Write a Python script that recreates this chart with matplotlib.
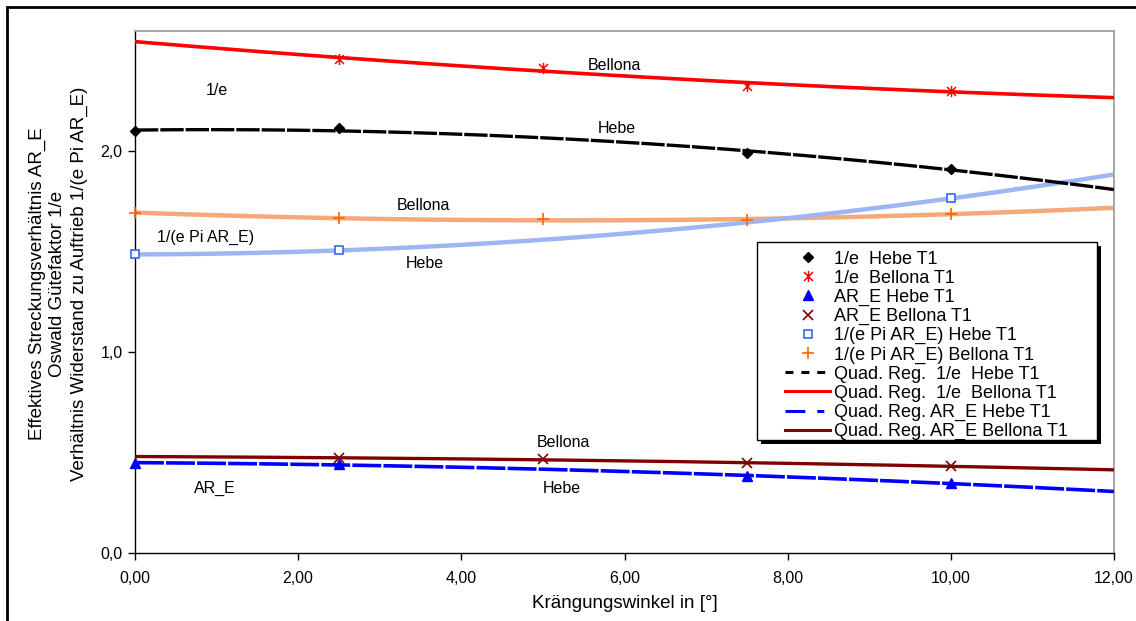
import numpy as np
import matplotlib
matplotlib.use("Agg")
import matplotlib.pyplot as plt
from matplotlib.lines import Line2D
from matplotlib.patches import Rectangle
from matplotlib.path import Path

plt.rcParams['font.family'] = ['Liberation Sans', 'DejaVu Sans']

# ---- data ----
x_inv_e_hebe = [0.0, 2.5, 7.5, 10.0]
inv_e_hebe = [2.100, 2.116, 1.990, 1.915]

x_inv_e_bellona = [2.5, 5.0, 7.5, 10.0]
inv_e_bellona = [2.462, 2.418, 2.325, 2.303]

x_are_hebe = [0.0, 2.5, 7.5, 10.0]
are_hebe = [0.448, 0.443, 0.382, 0.348]

x_are_bellona = [2.5, 5.0, 7.5, 10.0]
are_bellona = [0.473, 0.468, 0.446, 0.433]

x_ratio_hebe = [0.0, 2.5, 10.0]
ratio_hebe = [1.487, 1.507, 1.766]

x_ratio_bellona = [0.0, 2.5, 5.0, 7.5, 10.0]
ratio_bellona = [1.695, 1.667, 1.662, 1.657, 1.690]

x_ticks = [0, 2, 4, 6, 8, 10, 12]
x_ticklabels = ["0,00", "2,00", "4,00", "6,00", "8,00", "10,00", "12,00"]
y_ticks = [0, 1, 2]
y_ticklabels = ["0,0", "1,0", "2,0"]

W, H = 1136, 621
fig = plt.figure(figsize=(W / 100, H / 100), dpi=100)
ax = fig.add_axes([135 / W, (H - 553) / H, 979 / W, (553 - 31) / H])
ax.set_xlim(0, 12)
ax.set_ylim(0, 2.6)

xs = np.linspace(0, 12, 200)

def quad(x, y):
    return np.polyval(np.polyfit(x, y, 2), xs)

# regression curves
ax.plot(xs, quad(x_ratio_bellona, ratio_bellona), color='#F6A878', lw=3.2, zorder=2)
ax.plot(xs, quad(x_ratio_hebe, ratio_hebe), color='#9DB6F3', lw=3.2, zorder=2)
ax.plot(xs, quad(x_inv_e_hebe, inv_e_hebe), color='black', lw=2.4,
        linestyle=(0, (7, 0.6)), zorder=3)
ax.plot(xs, quad(x_inv_e_bellona, inv_e_bellona), color='#FF0000', lw=2.6, zorder=3)
ax.plot(xs, quad(x_are_hebe, are_hebe), color='#0000FF', lw=2.6,
        linestyle=(0, (8, 0.6)), zorder=3)
ax.plot(xs, quad(x_are_bellona, are_bellona), color='#800000', lw=2.4, zorder=3)

# asterisk marker (x with vertical bar)
ast = Path([(0, -1), (0, 1), (-0.8, -0.8), (0.8, 0.8), (-0.8, 0.8), (0.8, -0.8)],
           [Path.MOVETO, Path.LINETO, Path.MOVETO, Path.LINETO, Path.MOVETO, Path.LINETO])

mk = dict(linestyle='none', zorder=4, clip_on=False)
ax.plot(x_inv_e_hebe, inv_e_hebe, marker='D', ms=5.5, color='black', **mk)
ax.plot(x_inv_e_bellona, inv_e_bellona, marker=ast, ms=8, mew=1.1, color='#FF0000', **mk)
ax.plot(x_are_hebe, are_hebe, marker='^', ms=6.5, color='#0000FF', **mk)
ax.plot(x_are_bellona, are_bellona, marker='x', ms=7, mew=1.2, color='#800000', **mk)
ax.plot(x_ratio_hebe, ratio_hebe, marker='s', ms=6, mfc='white', mec='#3366FF', mew=1.2, **mk)
ax.plot(x_ratio_bellona, ratio_bellona, marker='+', ms=9, mew=1.2, color='#FF6600', **mk)

# axes styling
for s in ['top', 'right']:
    ax.spines[s].set_color('#A0A0A0')
    ax.spines[s].set_linewidth(1.3)
for s in ['left', 'bottom']:
    ax.spines[s].set_color('black')
    ax.spines[s].set_linewidth(1.0)
ax.set_xticks(x_ticks)
ax.set_xticklabels(x_ticklabels)
ax.set_yticks(y_ticks)
ax.set_yticklabels(y_ticklabels)
ax.tick_params(direction='out', length=5, width=1, labelsize=11.5, pad=8, colors='black')
ax.tick_params(axis='y', pad=4)

# annotations
ann = [
    ("Bellona", 5.88, 2.428), ("1/e", 1.0, 2.303), ("Hebe", 5.90, 2.114),
    ("Bellona", 3.53, 1.731), ("1/(e Pi AR_E)", 0.86, 1.572), ("Hebe", 3.55, 1.443),
    ("Bellona", 5.25, 0.552), ("AR_E", 0.98, 0.323), ("Hebe", 5.23, 0.323),
]
for t, x, y in ann:
    ax.text(x, y, t, ha='center', va='center', fontsize=11.5, zorder=5)

# axis titles
fig.text(58 / W, 1 - 284 / H,
         "Effektives Streckungsverhältnis AR_E\nOswald Gütefaktor 1/e\n"
         "Verhältnis Widerstand zu Auftrieb 1/(e Pi AR_E)",
         rotation=90, ha='center', va='center', multialignment='center',
         fontsize=13.5, linespacing=1.3)
fig.text(625 / W, 1 - 604 / H, "Krängungswinkel in [°]", ha='center', va='center',
         fontsize=13.5)

# outer frame
fig.patches.append(Rectangle((7 / W, -0.1), 1.2, 1.1 - 7 / H, transform=fig.transFigure,
                             fill=False, lw=2.0, edgecolor='black', zorder=1))

# legend box with shadow
lx0, ly0, lx1, ly1 = 757, 242, 1097, 440
fig.patches.append(Rectangle(((lx0 + 4) / W, 1 - (ly1 + 4) / H), (lx1 - lx0) / W,
                             (ly1 - ly0) / H, transform=fig.transFigure,
                             facecolor='black', edgecolor='black', lw=0, zorder=2))
fig.patches.append(Rectangle((lx0 / W, 1 - ly1 / H), (lx1 - lx0) / W, (ly1 - ly0) / H,
                             transform=fig.transFigure, facecolor='white',
                             edgecolor='black', lw=1.0, zorder=3))

handles = [
    Line2D([], [], linestyle='none', marker='D', ms=5.5, color='black'),
    Line2D([], [], linestyle='none', marker=ast, ms=8, mew=1.1, color='#FF0000'),
    Line2D([], [], linestyle='none', marker='^', ms=6.5, color='#0000FF'),
    Line2D([], [], linestyle='none', marker='x', ms=7, mew=1.2, color='#800000'),
    Line2D([], [], linestyle='none', marker='s', ms=6, mfc='white', mec='#3366FF', mew=1.2),
    Line2D([], [], linestyle='none', marker='+', ms=9, mew=1.2, color='#FF6600'),
    Line2D([], [], color='black', lw=2.2, linestyle=(0, (2.6, 2.6))),
    Line2D([], [], color='#FF0000', lw=2.2),
    Line2D([], [], color='#0000FF', lw=2.2, linestyle=(0, (6.5, 3.9, 2.3, 3.9))),
    Line2D([], [], color='#800000', lw=2.2),
]
labels = ["1/e  Hebe T1", "1/e  Bellona T1", "AR_E Hebe T1", "AR_E Bellona T1",
          "1/(e Pi AR_E) Hebe T1", "1/(e Pi AR_E) Bellona T1",
          "Quad. Reg.  1/e  Hebe T1", "Quad. Reg.  1/e  Bellona T1",
          "Quad. Reg. AR_E Hebe T1", "Quad. Reg. AR_E Bellona T1"]
leg = fig.legend(handles, labels, loc='upper left',
                 bbox_to_anchor=(785 / W, 1 - 250.5 / H), bbox_transform=fig.transFigure,
                 frameon=False, fontsize=13, borderpad=0, borderaxespad=0,
                 handlelength=2.5, handletextpad=0.2, labelspacing=0.115)
leg.set_zorder(5)

fig.savefig("out.png", dpi=100)
